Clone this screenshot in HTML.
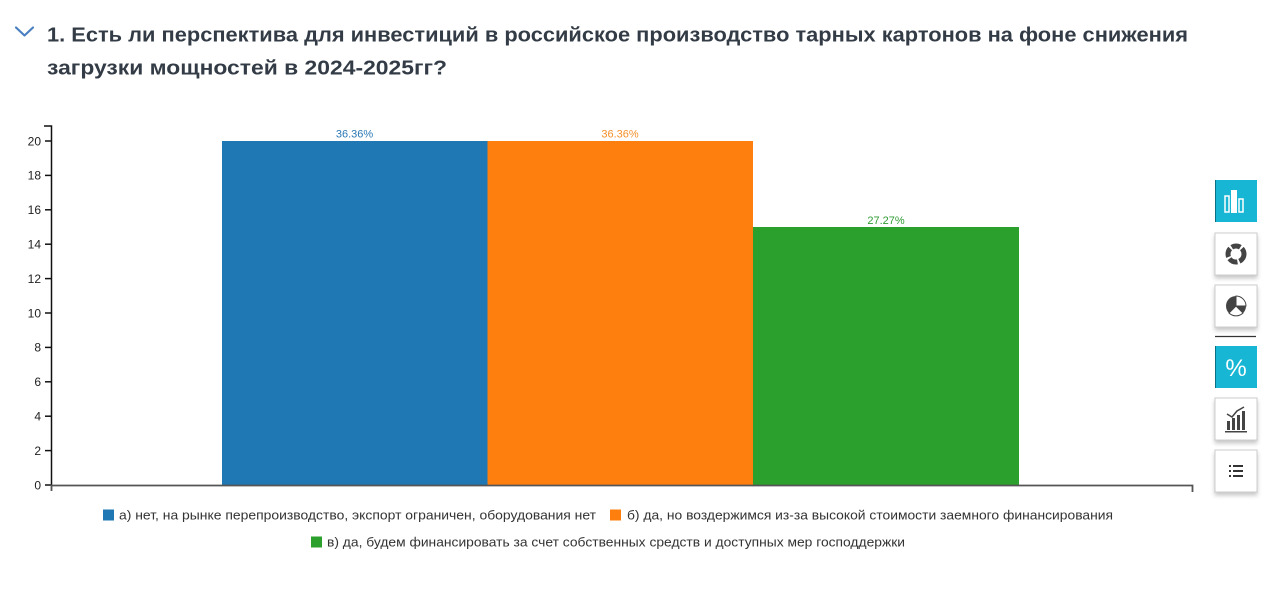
<!DOCTYPE html>
<html><head><meta charset="utf-8"><style>
html,body{margin:0;padding:0;background:#fff;width:1280px;height:589px;overflow:hidden}
svg{display:block}
</style></head><body>
<svg width="1280" height="589" viewBox="0 0 1280 589" xmlns="http://www.w3.org/2000/svg">
<rect width="1280" height="589" fill="#fff"/>
<!-- chevron -->
<polyline points="16,27.5 24.5,35.5 33,27.5" fill="none" stroke="#4a80c2" stroke-width="2.2" stroke-linecap="round" stroke-linejoin="round"/>
<!-- title -->
<g font-family="'Liberation Sans','Noto Sans CJK SC',sans-serif" font-weight="bold" font-size="20" fill="#333c46">
<text x="47" y="41.5" textLength="1141" lengthAdjust="spacingAndGlyphs">1. Есть ли перспектива для инвестиций в российское производство тарных картонов на фоне снижения</text>
<text x="47" y="74.5" textLength="400" lengthAdjust="spacingAndGlyphs">загрузки мощностей в 2024-2025гг?</text>
</g>
<!-- bars -->
<rect x="222" y="141" width="265.5" height="344" fill="#1f77b4"/>
<rect x="487.5" y="141" width="265.5" height="344" fill="#ff7f0e"/>
<rect x="753" y="227" width="266" height="258" fill="#2ca02c"/>
<!-- bar labels -->
<g font-family="'Liberation Sans',sans-serif" font-size="11" text-anchor="middle">
<text x="354.5" y="137.5" fill="#2a78b5">36.36%</text>
<text x="620" y="137.5" fill="#f5902a">36.36%</text>
<text x="886" y="224" fill="#2f9c34">27.27%</text>
</g>
<!-- y axis -->
<path d="M44,126 H51.5 V485" fill="none" stroke="#111" stroke-width="1.5"/>
<g stroke="#111" stroke-width="1.5">
<line x1="45" y1="141" x2="51" y2="141"/>
<line x1="45" y1="175.4" x2="51" y2="175.4"/>
<line x1="45" y1="209.8" x2="51" y2="209.8"/>
<line x1="45" y1="244.2" x2="51" y2="244.2"/>
<line x1="45" y1="278.6" x2="51" y2="278.6"/>
<line x1="45" y1="313" x2="51" y2="313"/>
<line x1="45" y1="347.4" x2="51" y2="347.4"/>
<line x1="45" y1="381.8" x2="51" y2="381.8"/>
<line x1="45" y1="416.2" x2="51" y2="416.2"/>
<line x1="45" y1="450.6" x2="51" y2="450.6"/>
<line x1="45" y1="485" x2="51" y2="485"/>
</g>
<g font-family="'Liberation Sans',sans-serif" font-size="12" fill="#222" text-anchor="end">
<text x="41" y="145.3">20</text>
<text x="41" y="179.7">18</text>
<text x="41" y="214.1">16</text>
<text x="41" y="248.5">14</text>
<text x="41" y="282.9">12</text>
<text x="41" y="317.3">10</text>
<text x="41" y="351.7">8</text>
<text x="41" y="386.1">6</text>
<text x="41" y="420.5">4</text>
<text x="41" y="454.9">2</text>
<text x="41" y="489.3">0</text>
</g>
<!-- x axis -->
<path d="M51.5,491 V485.5 H1192.5 V492" fill="none" stroke="#555" stroke-width="1.8"/>
<!-- legend -->
<g font-family="'Liberation Sans',sans-serif" font-size="13" fill="#333">
<rect x="103" y="509.5" width="11" height="11" fill="#1f77b4"/>
<text x="119" y="519.5" textLength="477" lengthAdjust="spacingAndGlyphs">а) нет, на рынке перепроизводство, экспорт ограничен, оборудования нет</text>
<rect x="610" y="509.5" width="11" height="11" fill="#ff7f0e"/>
<text x="627" y="519.5" textLength="486" lengthAdjust="spacingAndGlyphs">б) да, но воздержимся из-за высокой стоимости заемного финансирования</text>
<rect x="311" y="536.5" width="11" height="11" fill="#2ca02c"/>
<text x="327" y="546.5" textLength="578" lengthAdjust="spacingAndGlyphs">в) да, будем финансировать за счет собственных средств и доступных мер господдержки</text>
</g>
<!-- sidebar -->
<defs>
<filter id="sh" x="-30%" y="-30%" width="160%" height="170%">
<feDropShadow dx="0" dy="3" stdDeviation="2" flood-color="#000" flood-opacity="0.22"/>
</filter>
</defs>
<!-- btn1 active -->
<rect x="1215" y="180" width="42" height="42" fill="#17b6d4"/>
<line x1="1215.5" y1="180" x2="1215.5" y2="222" stroke="#0d6f82" stroke-width="1"/>
<g fill="none" stroke="#fff" stroke-width="1.5">
<rect x="1225" y="196" width="4" height="16"/>
<rect x="1239" y="199" width="4" height="13"/>
</g>
<rect x="1231" y="190" width="6" height="23" fill="#fff"/>
<!-- btn2 -->
<rect x="1215" y="233" width="42" height="42" fill="#fff" stroke="#ccc" filter="url(#sh)"/>
<circle cx="1236" cy="254" r="8" fill="none" stroke="#444" stroke-width="5" stroke-dasharray="9 2"/>
<!-- btn3 -->
<rect x="1215" y="285" width="42" height="42" fill="#fff" stroke="#ccc" filter="url(#sh)"/>
<circle cx="1236" cy="306" r="10" fill="#444"/>
<path d="M1236,306 L1246,306 A10,10 0 0 0 1236,296 Z" fill="#fff" stroke="#444" stroke-width="1"/>
<path d="M1236,306 L1229,313 A10,10 0 0 0 1243,313 Z" fill="#fff" stroke="#444" stroke-width="1"/>
<!-- separator -->
<line x1="1215" y1="336.5" x2="1256" y2="336.5" stroke="#333" stroke-width="1.2"/>
<!-- btn4 active -->
<rect x="1215" y="346" width="42" height="42" fill="#17b6d4"/>
<line x1="1215.5" y1="346" x2="1215.5" y2="388" stroke="#0d6f82" stroke-width="1"/>
<text x="1236" y="376" font-family="'Liberation Sans',sans-serif" font-size="24" fill="#fff" text-anchor="middle">%</text>
<!-- btn5 -->
<rect x="1215" y="398" width="42" height="42" fill="#fff" stroke="#ccc" filter="url(#sh)"/>
<g fill="#444">
<rect x="1227" y="421" width="3" height="9"/>
<rect x="1232" y="418" width="3" height="12"/>
<rect x="1237" y="415" width="3" height="15"/>
<rect x="1242" y="411" width="3" height="19"/>
<rect x="1225" y="431" width="22" height="1.5"/>
</g>
<polyline points="1227,414 1232,417 1237,411 1244,407" fill="none" stroke="#444" stroke-width="1.5"/>
<!-- btn6 -->
<rect x="1215" y="450" width="42" height="42" fill="#fff" stroke="#ccc" filter="url(#sh)"/>
<g fill="#333">
<rect x="1229" y="465" width="2" height="2"/>
<rect x="1229" y="470" width="2" height="2"/>
<rect x="1229" y="475" width="2" height="2"/>
<rect x="1233" y="465" width="10" height="2"/>
<rect x="1233" y="470" width="10" height="2"/>
<rect x="1233" y="475" width="10" height="2"/>
</g>
</svg>
</body></html>
